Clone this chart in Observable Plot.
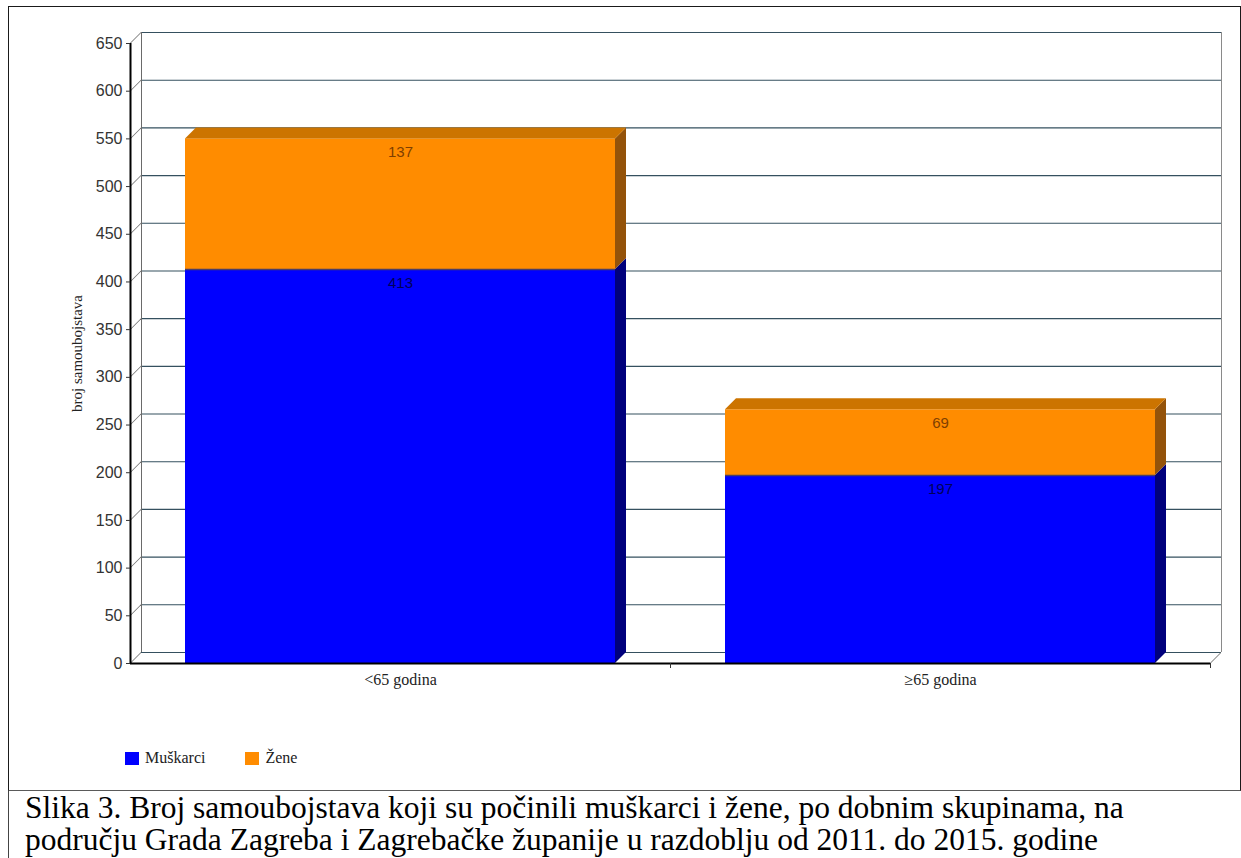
<!DOCTYPE html>
<html>
<head>
<meta charset="utf-8">
<script src="https://cdn.jsdelivr.net/npm/d3@7"></script>
<script src="https://cdn.jsdelivr.net/npm/@observablehq/plot@0.6"></script>
<style>
html, body { margin: 0; padding: 0; background: #fff; overflow: hidden; width: 1241px; height: 858px; }
#frame { position: absolute; left: 8px; top: 6px; width: 1233px; height: 785px; box-sizing: border-box;
  border: 1px solid #1a1a1a; border-bottom-color: #5a5a5a; pointer-events: none; }
#chart { position: absolute; left: 0; top: 0; }
#legend { position: absolute; left: 125px; top: 749px; font: 16px "Liberation Serif", serif; color: #222;
  display: flex; align-items: center; white-space: nowrap; }
#legend .item { display: flex; align-items: center; }
#legend .sw { display: inline-block; width: 14px; height: 13px; margin-right: 6px; }
#caption { position: absolute; left: 8px; top: 791px; height: 67px; box-sizing: border-box;
  border-left: 1px solid #444; padding: 1px 0 0 16px; font: 31.5px/32px "Liberation Serif", serif;
  white-space: nowrap; color: #000; }
g[aria-description="side-face"] rect { transform-box: fill-box; transform-origin: left bottom; transform: skewY(-45deg); }
g[aria-description="top-face"] rect { transform-box: fill-box; transform-origin: left bottom; transform: skewX(-45deg); }
g[aria-description="depth-edge"] line { transform-box: fill-box; transform-origin: left center; transform: skewY(-45deg); }
</style>
</head>
<body>
<div id="chart"></div>
<div id="frame"></div>
<div id="legend"></div>
<div id="caption"></div>
<script>
// ---- data ----
const categories = ["<65 godina", "≥65 godina"];
const seriesNames = ["Muškarci", "Žene"];
const muskarci = [413, 197];
const zene = [137, 69];
const yTicks = [0, 50, 100, 150, 200, 250, 300, 350, 400, 450, 500, 550, 600, 650];
const yLabel = "broj samoubojstava";
const captionLines = [
  "Slika 3. Broj samoubojstava koji su počinili muškarci i žene, po dobnim skupinama, na",
  "području Grada Zagreba i Zagrebačke županije u razdoblju od 2011. do 2015. godine"
];

// ---- styles ----
const frontColors = ["#0000ff", "#ff8c00"];
const sideColors = ["#00007c", "#94530a"];
const topColors = ["#0000b0", "#cc7400"];
const labelColors = ["#00005a", "#7f3f00"];

const W = 1241, H = 700, ML = 130, MR = 31, MT = 43, MB = 37;
const depth = 11;
const slot = (W - ML - MR) / categories.length;
const inset = Math.round(slot * 0.102);

const seriesValues = [muskarci, zene];
const segs = [];
categories.forEach((c, i) => {
  let base = 0;
  seriesValues.forEach((vals, s) => {
    segs.push({i, cat: c, s, series: seriesNames[s], value: vals[i], y1: base, y2: base + vals[i]});
    base += vals[i];
  });
});
const tops = segs.filter(d => d.s === seriesNames.length - 1);
const yMax = yTicks[yTicks.length - 1];

const marks = [
  // back wall grid
  Plot.ruleY(yTicks, {dx: depth, dy: -depth, stroke: "#35505f", strokeWidth: 1.1}),
  Plot.ruleX([0], {y1: 0, y2: yMax, dx: depth, dy: -depth, stroke: "#6a6a6a"}),
  Plot.ruleX([categories.length], {y1: 0, y2: yMax, dx: depth, dy: -depth, stroke: "#8a8a8a"}),
  // depth edges
  Plot.ruleY(yTicks, {x1: 0, x2: 0, insetRight: -depth, stroke: "#6a6a6a", ariaDescription: "depth-edge"}),
  Plot.ruleY([0], {x1: categories.length, x2: categories.length, insetRight: -depth, stroke: "#6a6a6a", ariaDescription: "depth-edge"})
];

seriesNames.forEach((name, s) => {
  const d = segs.filter(e => e.s === s);
  marks.push(
    Plot.rect(d, {x1: "i", x2: e => e.i + 1, y1: "y1", y2: "y2", insetLeft: inset, insetRight: inset, fill: frontColors[s]}),
    Plot.rect(d, {x1: "i", x2: e => e.i + 1, y1: "y1", y2: "y2", insetLeft: slot - inset, insetRight: inset - depth, fill: sideColors[s], ariaDescription: "side-face"})
  );
});
marks.push(
  Plot.rect(tops, {x1: "i", x2: e => e.i + 1, y1: "y2", y2: "y2", insetLeft: inset, insetRight: inset, insetTop: -depth, fill: topColors[1], ariaDescription: "top-face"}),
  Plot.ruleY(segs.filter(e => e.s === 0), {y: "y2", x1: "i", x2: e => e.i + 1, insetLeft: inset, insetRight: inset, stroke: "#4a3d66", strokeWidth: 1.5})
);
seriesNames.forEach((name, s) => {
  marks.push(Plot.text(segs.filter(e => e.s === s), {
    x: e => e.i + 0.5, y: "y2", dy: 13.5, text: e => String(e.value),
    fill: labelColors[s], fontFamily: "Liberation Sans", fontSize: 15
  }));
});
marks.push(
  // front axes
  Plot.ruleX([0], {y1: 0, y2: yMax, stroke: "#000", strokeWidth: 2}),
  Plot.ruleY([0], {stroke: "#000", strokeWidth: 2}),
  Plot.axisY({ticks: yTicks, tickSize: 4, tickPadding: 4, label: null, fontFamily: "Liberation Sans", fontSize: 16, color: "#333"}),
  Plot.axisX({ticks: d3.range(1, categories.length + 1), tickSize: 5, tickFormat: () => "", label: null, color: "#333"}),
  Plot.axisX({ticks: categories.map((c, i) => i + 0.5), tickSize: 0, tickPadding: 10, tickFormat: v => categories[Math.floor(v)],
    label: null, fontFamily: "Liberation Serif", fontSize: 16, color: "#222"}),
  Plot.text([yLabel], {frameAnchor: "left", textAnchor: "middle", dx: -53, rotate: -90, fontFamily: "Liberation Serif", fontSize: 15, fill: "#222"})
);

const chart = Plot.plot({
  width: W, height: H,
  marginLeft: ML, marginRight: MR, marginTop: MT, marginBottom: MB,
  x: {domain: [0, categories.length]},
  y: {domain: [0, yMax]},
  style: {fontFamily: "Liberation Serif", fontSize: "16px", background: "transparent", overflow: "visible"},
  marks
});
document.getElementById("chart").appendChild(chart);

// legend
const legend = document.getElementById("legend");
seriesNames.forEach((name, s) => {
  const item = document.createElement("span");
  item.className = "item";
  item.style.marginRight = s === 0 ? "40px" : "0";
  const sw = document.createElement("span");
  sw.className = "sw";
  sw.style.background = frontColors[s];
  item.appendChild(sw);
  item.appendChild(document.createTextNode(name));
  legend.appendChild(item);
});

// caption
const cap = document.getElementById("caption");
captionLines.forEach((line, k) => {
  if (k) cap.appendChild(document.createElement("br"));
  cap.appendChild(document.createTextNode(line));
});
</script>
</body>
</html>
